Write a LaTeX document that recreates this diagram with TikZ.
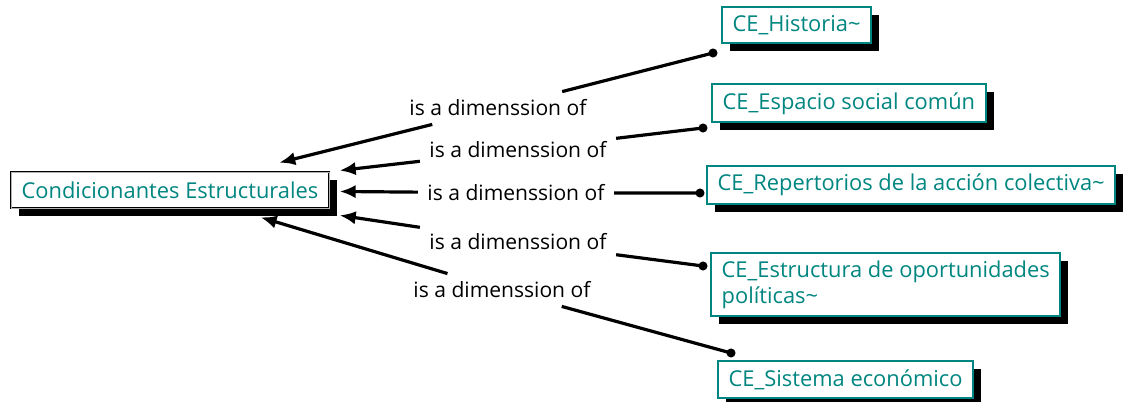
\documentclass[tikz,border=0pt]{standalone}
\usepackage{fontspec}
\setmainfont{Open Sans}
\usetikzlibrary{arrows.meta,shadows}
\definecolor{cmapteal}{RGB}{0,134,128}
\begin{document}
\begin{tikzpicture}
[x=0.75pt,y=-0.75pt,
concept/.style={draw=cmapteal,line width=1.5pt,fill=white,text=cmapteal,
	font=\fontsize{16.4pt}{19.5pt}\selectfont,
	inner xsep=8pt,inner ysep=6pt,minimum height=27pt,align=left,
	drop shadow={shadow xshift=6pt,shadow yshift=-6pt,fill=black,opacity=1}},
root/.style={concept,draw=black,line width=0.5pt,double=gray!60,double distance=0.7pt,
	outer xsep=8pt,outer ysep=7pt},
linkword/.style={font=\fontsize{15.8pt}{18pt}\selectfont,inner xsep=7pt,inner ysep=6pt},
link/.style={line width=2.4pt,-{Latex[length=12pt,width=10pt]}},
]
\useasboundingbox (0,0) rectangle (1129,402);
\node[root] (cond) at (170,190) {Condicionantes Estructurales};
\node[concept,anchor=west] (hist) at (721,25) {CE\_Historia\textasciitilde};
\node[concept,anchor=west] (esp) at (711,103.5) {CE\_Espacio social común};
\node[concept,anchor=west] (rep) at (706,185) {CE\_Repertorios de la acción colectiva\textasciitilde};
\node[concept,anchor=west] (estr) at (710,284.5) {CE\_Estructura de oportunidades\\políticas\textasciitilde};
\node[concept,anchor=west] (sis) at (717,379.5) {CE\_Sistema económico};
% linking phrases
\node[linkword] (l1) at (498,108) {is a dimenssion of};
\node[linkword] (l2) at (518,150) {is a dimenssion of};
\node[linkword] (l3) at (516,193) {is a dimenssion of};
\node[linkword] (l4) at (518,242) {is a dimenssion of};
\node[linkword] (l5) at (502,290) {is a dimenssion of};
\coordinate (d1) at (713,53);
\coordinate (d2) at (703,128);
\coordinate (d3) at (700,193);
\coordinate (d4) at (703,266);
\coordinate (d5) at (731,353);
\foreach \d/\l in {d1/l1,d2/l2,d3/l3,d4/l4,d5/l5}
{
	\fill (\d) circle[radius=3.4pt];
	\draw[link] (\d) -- (\l) -- (cond);
}
\end{tikzpicture}
\end{document}
